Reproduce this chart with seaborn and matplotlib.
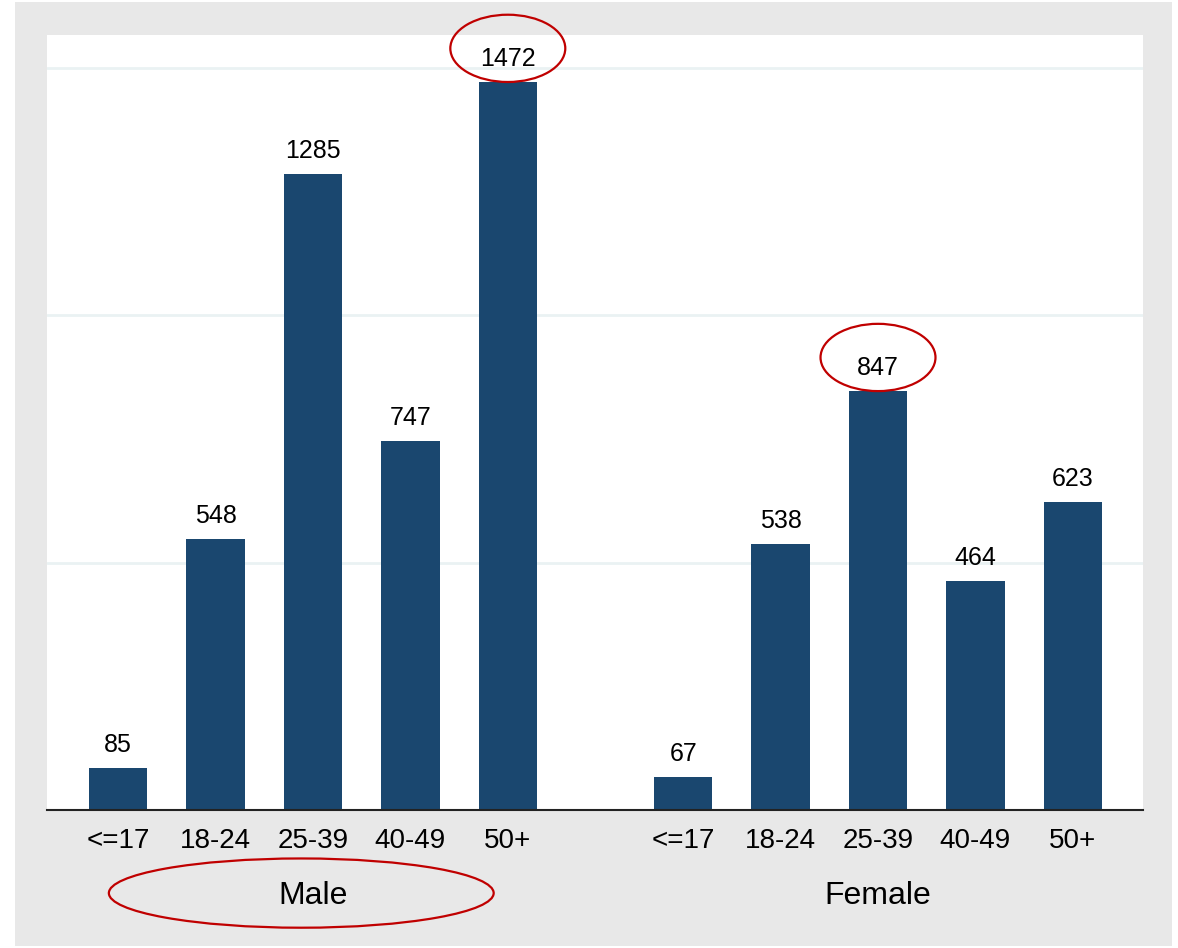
import pandas as pd
import matplotlib.pyplot as plt
import matplotlib.transforms as mtransforms
import seaborn as sns
from matplotlib.patches import Ellipse, Rectangle

# Data
groups = ["Male", "Female"]
age_bands = ["<=17", "18-24", "25-39", "40-49", "50+"]
male_counts = [85, 548, 1285, 747, 1472]
female_counts = [67, 538, 847, 464, 623]
highlights = [("Male", "50+"), ("Female", "25-39")]
circled_group = "Male"

navy = "#1a476f"
red = "#c00000"
group_gap = 0.8  # extra space between the two groups

sns.set_style("white")
plt.rcParams["font.family"] = ["Liberation Sans Narrow", "Liberation Sans", "DejaVu Sans"]
plt.rcParams["text.color"] = "black"
plt.rcParams["xtick.color"] = "black"

# Build a long table with x positions for each bar
rows = []
for g_idx, (grp, counts) in enumerate(zip(groups, [male_counts, female_counts])):
    for i, (band, n) in enumerate(zip(age_bands, counts)):
        rows.append({"group": grp, "age": band, "count": n,
                     "pos": g_idx * (len(age_bands) + group_gap) + i})
df = pd.DataFrame(rows)

fig = plt.figure(figsize=(11.78, 9.48), dpi=100)
fig.patch.set_facecolor("white")
fig.patches.append(Rectangle((15 / 1178, 2 / 948), 1157 / 1178, 944 / 948,
                             transform=fig.transFigure, facecolor="#e8e8e8",
                             edgecolor="none", zorder=-10))
ax = fig.add_axes([47 / 1178, 1 - 810 / 948, 1096 / 1178, 775 / 948])
ax.set_facecolor("white")

sns.barplot(data=df, x="pos", y="count", native_scale=True, width=0.6,
            color=navy, saturation=1, errorbar=None, linewidth=0, ax=ax)

ax.set_ylim(0, 1567)
ax.set_xlim(-0.73, df["pos"].max() + 0.72)
ax.set_yticks([500, 1000, 1500])
ax.set_yticklabels([])
ax.yaxis.grid(True, color="#eaf2f3", linewidth=2)
ax.set_axisbelow(True)
ax.set_xticks(df["pos"], df["age"], fontsize=20, color="black")
ax.tick_params(axis="x", length=0, pad=13)
ax.tick_params(axis="y", length=0)
ax.set_xlabel("")
ax.set_ylabel("")
for side in ["top", "left", "right"]:
    ax.spines[side].set_visible(False)
ax.spines["bottom"].set_color("#222222")
ax.spines["bottom"].set_linewidth(1.5)

# Value labels above bars
for _, r in df.iterrows():
    ax.annotate(f"{r['count']}", (r["pos"], r["count"]), xytext=(0, 11.5),
                textcoords="offset points", ha="center", va="baseline",
                fontsize=18, color="black")

# Group labels under the tick labels
trans = mtransforms.blended_transform_factory(ax.transData, ax.transAxes)
for grp in groups:
    center = df.loc[df["group"] == grp, "pos"].mean()
    ax.text(center, -0.111, grp, transform=trans, ha="center", va="center",
            fontsize=23, color="black")

# Red ellipses highlighting values
for grp, band in highlights:
    r = df[(df["group"] == grp) & (df["age"] == band)].iloc[0]
    ax.add_patch(Ellipse((r["pos"], r["count"] + 68), 1.18, 136, fill=False,
                         edgecolor=red, linewidth=1.6, clip_on=False, zorder=5))

center = df.loc[df["group"] == circled_group, "pos"].mean()
ax.add_patch(Ellipse((center - 0.12, -168), 3.95, 140, fill=False,
                     edgecolor=red, linewidth=1.6, clip_on=False, zorder=5))

plt.savefig("out.png", dpi=100, facecolor=fig.get_facecolor())
